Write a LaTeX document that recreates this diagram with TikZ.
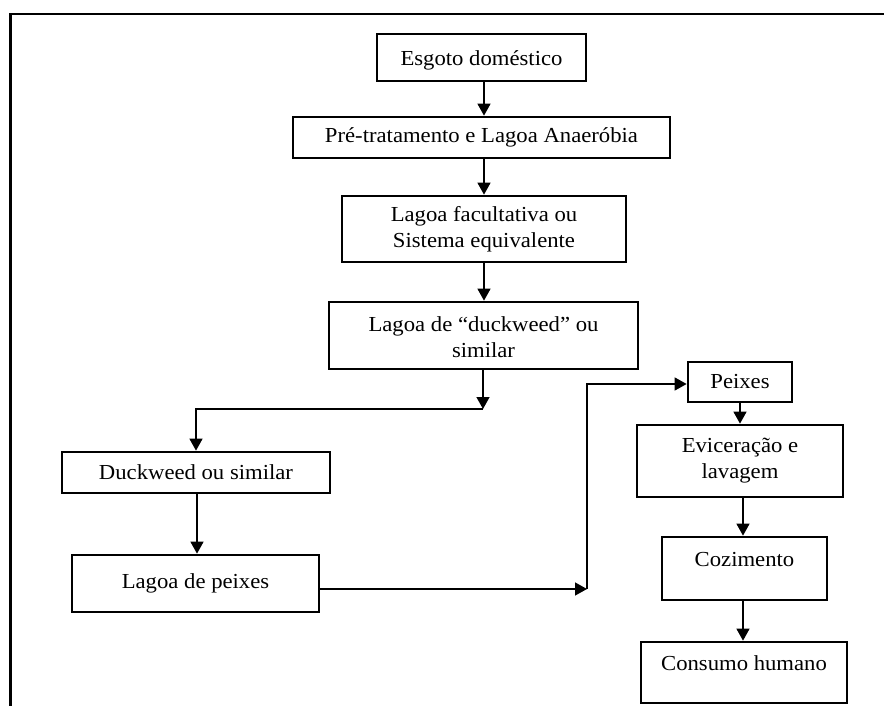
\documentclass[tikz,border=0pt]{standalone}
\usepackage{fontspec}
\setmainfont{Liberation Serif}
\newfontfamily\boxfont[FakeStretch=1.06]{Liberation Serif}
\usetikzlibrary{arrows.meta}
\newcommand{\liftText}[2]{\raisebox{#1}[\height][\depth]{\begin{tabular}{@{}c@{}}#2\end{tabular}}}
\tikzset{
  flowbox/.style={draw, line width=2.7pt, rectangle, inner sep=0pt, align=center,
    font=\boxfont\fontsize{21.4}{26}\selectfont},
  arr/.style={line width=1.4pt, -{Triangle[length=12pt,width=13pt]}},
}
\begin{document}
\begin{tikzpicture}[x=1pt,y=-1pt]
\useasboundingbox (0,0) rectangle (884,706);
% outer frame (only top and left visible)
\draw[line width=2.6pt] (10.5,706) -- (10.5,14) -- (884,14);

\node[flowbox, minimum width=209pt, minimum height=47pt] (esgoto) at (481.5,57.5) {\liftText{-3pt}{Esgoto doméstico}};
\node[flowbox, minimum width=377pt, minimum height=41pt] (pre) at (481.5,137.5) {Pré-tratamento e Lagoa Anaeróbia};
\node[flowbox, minimum width=284pt, minimum height=66pt] (facult) at (484,229) {Lagoa facultativa ou\\Sistema equivalente};
\node[flowbox, minimum width=309pt, minimum height=67pt] (lduck) at (483.5,335.5) {\liftText{-4pt}{Lagoa de “duckweed” ou\\similar}};
\node[flowbox, minimum width=268pt, minimum height=41pt] (duck) at (196,472.5) {Duckweed ou similar};
\node[flowbox, minimum width=247pt, minimum height=57pt] (lpeix) at (195.5,583.5) {Lagoa de peixes};
\node[flowbox, minimum width=104pt, minimum height=40pt] (peixes) at (740,382) {Peixes};
\node[flowbox, minimum width=206pt, minimum height=72pt] (evic) at (740,461) {Eviceração e\\lavagem};
\node[flowbox, minimum width=165pt, minimum height=63pt] (coz) at (744.5,568.5) {\liftText{7pt}{Cozimento}};
\node[flowbox, minimum width=206pt, minimum height=61pt] (cons) at (744,672.5) {\liftText{7pt}{Consumo humano}};

\coordinate (j1) at (483,409);
\coordinate (j2) at (587,589);

\draw[arr] (esgoto.south -| 484,0) -- (pre.north -| 484,0);
\draw[arr] (pre.south -| 484,0) -- (facult.north -| 484,0);
\draw[arr] (facult.south -| 484,0) -- (lduck.north -| 484,0);
\draw[arr] (lduck.south -| j1) -- (j1);
\draw[arr] (j1) -| (duck.north);
\draw[arr] (duck.south -| 197,0) -- (lpeix.north -| 197,0);
\draw[arr] (lpeix.east |- j2) -- (j2);
\draw[arr] (j2) |- (peixes.west |- 0,384);
\draw[arr] (peixes.south) -- (evic.north);
\draw[arr] (evic.south -| 743,0) -- (coz.north -| 743,0);
\draw[arr] (coz.south -| 743,0) -- (cons.north -| 743,0);
\end{tikzpicture}
\end{document}
